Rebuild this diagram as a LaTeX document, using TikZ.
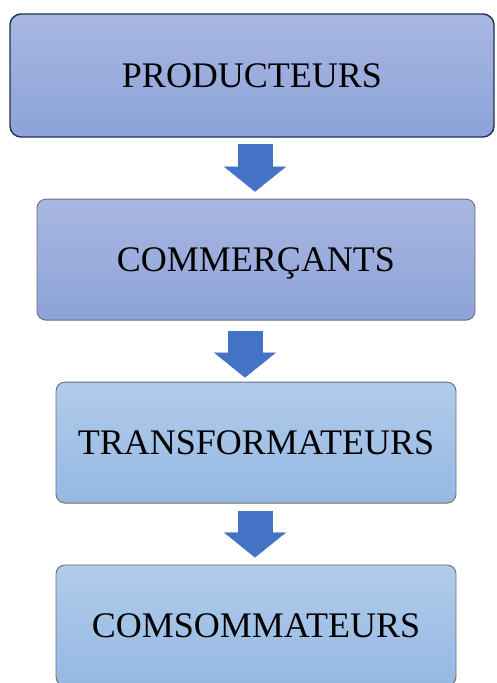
\documentclass[tikz,border=0pt]{standalone}
\usepackage{fontspec}
\setmainfont{Liberation Serif}
\usepackage{xcolor}
\usepackage{tikz}
\usetikzlibrary{arrows.meta,positioning,calc}
\definecolor{navy}{HTML}{1F3050}
\definecolor{edge}{HTML}{6B6E73}
\definecolor{violettop}{HTML}{A9B7E1}
\definecolor{violetbot}{HTML}{8CA3D9}
\definecolor{skytop}{HTML}{B1CCEB}
\definecolor{skybot}{HTML}{95B8E3}
\definecolor{flow}{HTML}{4472C4}
\tikzset{
  blk/.style={draw=edge, rounded corners=9pt, align=center, font=\fontsize{36}{40}\selectfont,
              text height=24pt, text depth=0pt, minimum height=121pt, inner sep=0pt, line width=0.9pt},
  violet/.style={blk, top color=violettop, bottom color=violetbot},
  sky/.style={blk, top color=skytop, bottom color=skybot},
  head/.style={violet, draw=navy, line width=1.4pt, rounded corners=11pt},
  dn/.style={-{Triangle[length=25pt, width=62pt, line width'=0.4pt]}, line width=35pt, draw=flow},
}

\begin{document}
\begin{tikzpicture}[x=1pt, y=1pt, node distance=61pt]
  \useasboundingbox (0,0) rectangle (496,-683);
  \node[head, minimum width=484pt, minimum height=123pt] (prod) at (252,-75.5) {PRODUCTEURS};
  \node[violet, minimum width=438pt, below=of prod, xshift=4pt] (comm) {COMMERÇANTS};
  \node[sky, minimum width=400pt, below=of comm] (trans) {TRANSFORMATEURS};
  \node[sky, minimum width=400pt, below=of trans] (cons) {COMSOMMATEURS};
  \draw[dn] ($(prod.south)+(3,-6)$) -- ($(comm.north)+(-1,7)$);
  \draw[dn] ($(comm.south)+(-11,-10)$) -- ($(trans.north)+(-11,4)$);
  \draw[dn] ($(trans.south)+(-1,-7)$) -- ($(cons.north)+(-1,7)$);
\end{tikzpicture}
\end{document}
